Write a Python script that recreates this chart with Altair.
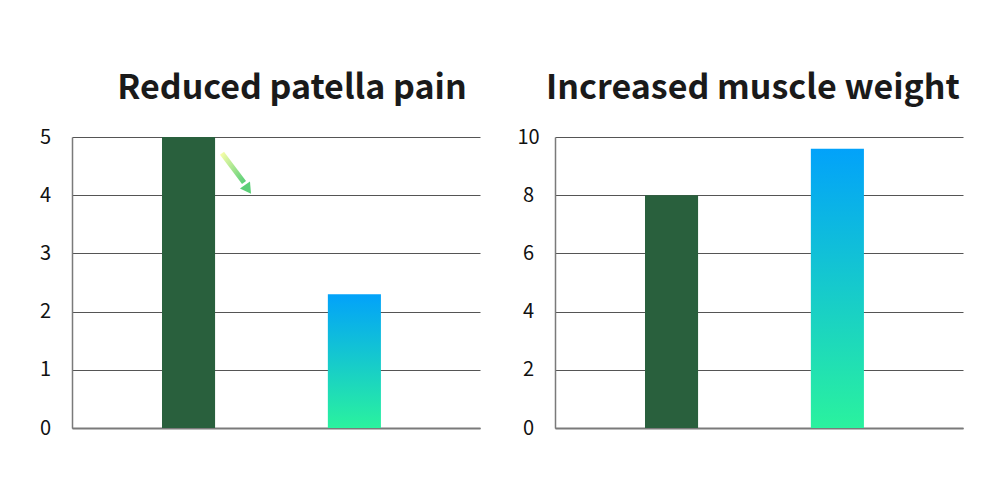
import altair as alt
import pandas as pd

groups = ["before", "after"]
pain_values = [5.0, 2.3]
muscle_values = [8.0, 9.6]
pain_ticks = [0, 1, 2, 3, 4, 5]
muscle_ticks = [0, 2, 4, 6, 8, 10]
titles = ["Reduced patella pain", "Increased muscle weight"]
arrow_y = [4.72, 4.22]
arrow_head_y = [4.1]

DARK = "#29603d"
grad = alt.Gradient(
    gradient="linear",
    stops=[alt.GradientStop(color="#02a2fa", offset=0),
           alt.GradientStop(color="#2af29e", offset=1)],
    x1=0, x2=0, y1=0, y2=1,
)
arrow_grad = alt.Gradient(
    gradient="linear",
    stops=[alt.GradientStop(color="#f4fda8", offset=0),
           alt.GradientStop(color="#5ccf78", offset=1)],
    x1=0, x2=1, y1=0, y2=1,
)


def panel(title, values, ticks, dx, arrow=False):
    df = pd.DataFrame({"group": groups, "value": values})
    x = alt.X("group:N", sort=groups,
              scale=alt.Scale(domain=groups, paddingInner=0.68, paddingOuter=0.57, align=0.476),
              axis=alt.Axis(labels=False, ticks=False, title=None, grid=False,
                            domainColor="#7a7a7a", domainWidth=2))
    y = alt.Y("value:Q", scale=alt.Scale(domain=[ticks[0], ticks[-1]], nice=False),
              axis=alt.Axis(values=ticks, format="d", title=None, ticks=False, grid=True,
                            gridColor="#555555", gridWidth=1,
                            domainColor="#7a7a7a", domainWidth=1.5,
                            labelFont="Noto Sans CJK KR", labelFontSize=20,
                            labelColor="#111111", labelAlign="center",
                            labelPadding=27, minExtent=59))
    base = alt.Chart(df)
    solid = base.transform_filter(alt.datum.group == "before").mark_bar(color=DARK).encode(x=x, y=y)
    gbar = base.transform_filter(alt.datum.group == "after").mark_bar(color=grad).encode(x=x, y=y)
    layers = [solid, gbar]
    if arrow:
        adf = pd.DataFrame({"y": [arrow_y[0]], "y2": [arrow_y[1]]})
        shaft = alt.Chart(adf).mark_rule(stroke=arrow_grad, strokeWidth=5).encode(
            x=alt.value(150), x2=alt.value(172), y="y:Q", y2="y2:Q")
        hdf = pd.DataFrame({"y": arrow_head_y})
        head = alt.Chart(hdf).mark_point(shape="triangle-up", filled=True, angle=145,
                                          size=150, color="#5ccf78", opacity=1).encode(
            x=alt.value(176), y="y:Q")
        layers += [shaft, head]
    return alt.layer(*layers).properties(
        width=408, height=291,
        title=alt.TitleParams(title, fontSize=34, font="Noto Sans CJK KR", fontWeight="bold",
                              color="#1a1a1a", anchor="middle", dx=dx, offset=21),
    )


left = panel(titles[0], pain_values, pain_ticks, 16, arrow=True)
right = panel(titles[1], muscle_values, muscle_ticks, -6)

chart = alt.hconcat(left, right, spacing=16).properties(
    padding={"top": 64, "left": 5, "right": 5, "bottom": 5},
    background="white",
).configure_view(stroke=None)

chart.save("out.html", embed_options={"renderer": "svg", "actions": False})
